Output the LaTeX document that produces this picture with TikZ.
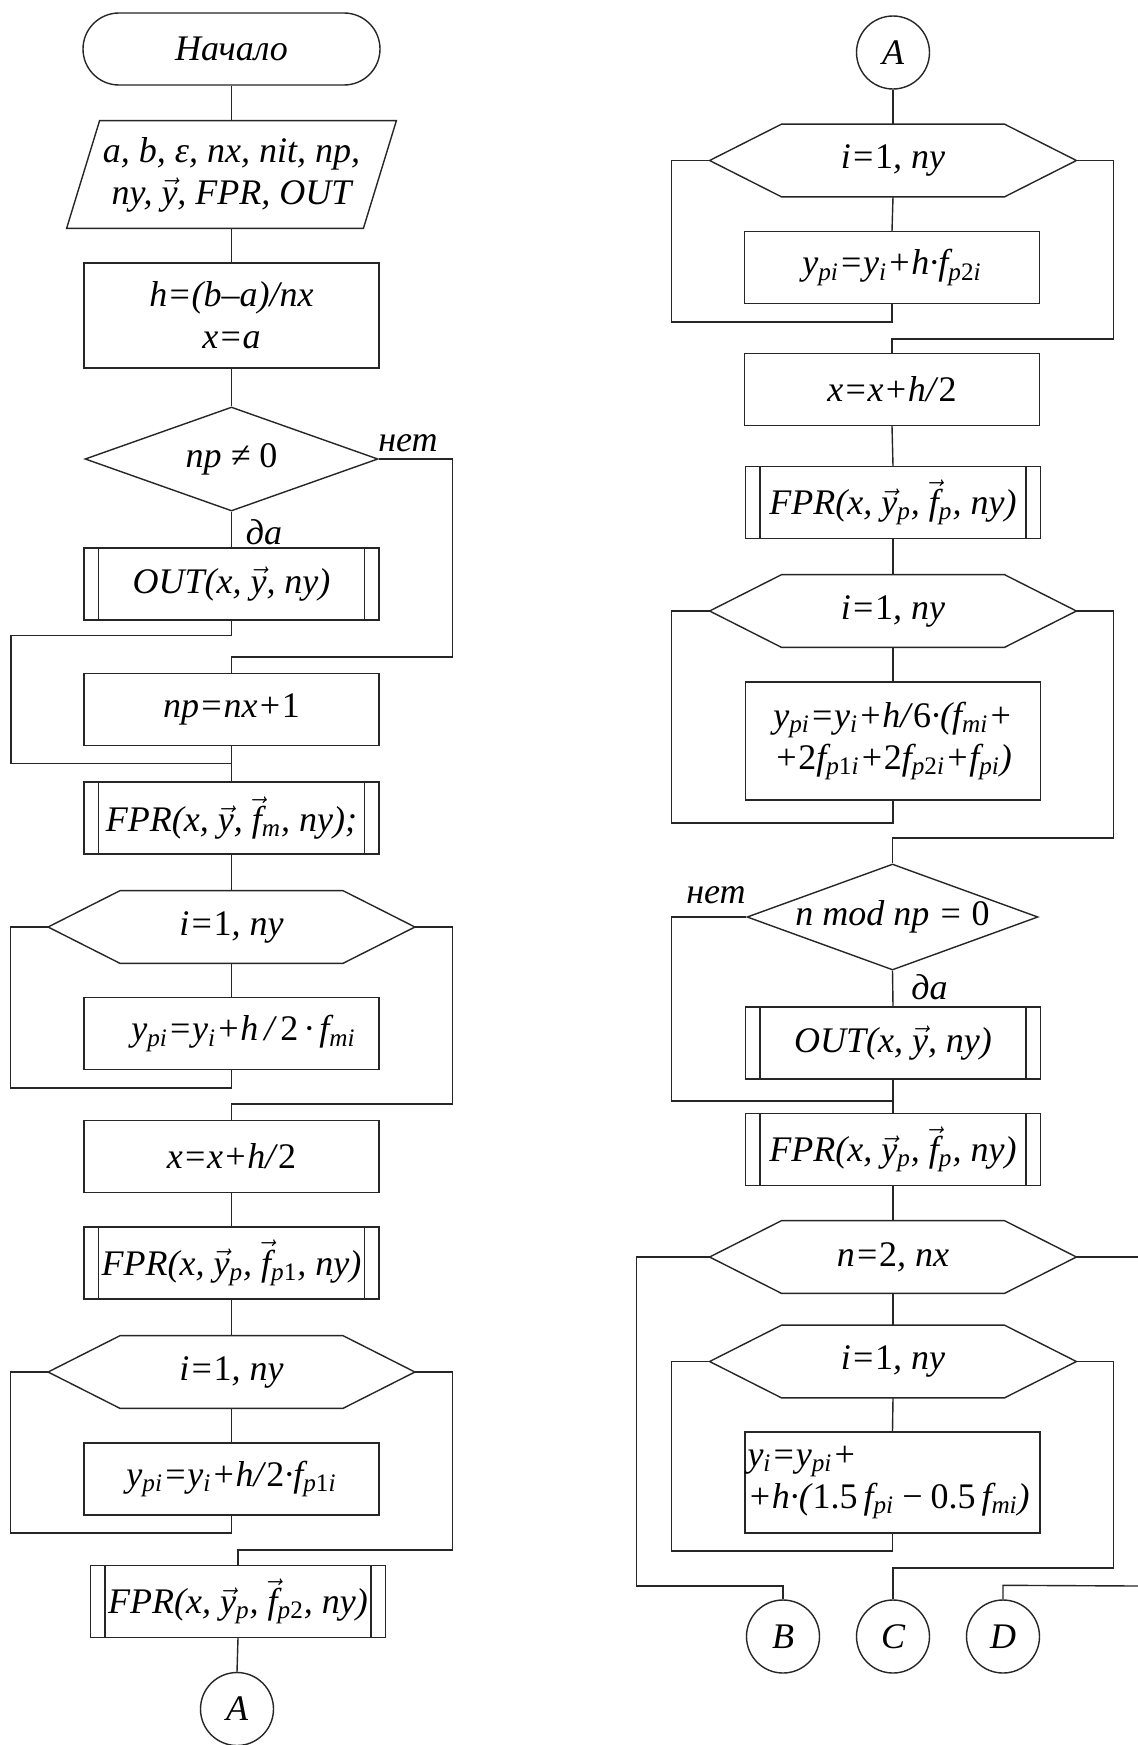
\documentclass[tikz,border=0pt]{standalone}
\usepackage{fontspec}
\setmainfont{Liberation Serif}
\usetikzlibrary{shapes.geometric}
\newcommand{\vecit}[1]{\ensuremath{\vec{\hbox{\itshape #1}}}}
\newcommand{\sbs}[1]{\textsubscript{#1}}

\begin{document}
\begin{tikzpicture}[
  x=.5pt,y=-.5pt,
  font=\fontsize{18}{21}\selectfont\itshape,
  link/.style={draw=black!85, line width=.7pt},
  base/.style={draw=black!85, line width=.7pt, align=center, inner xsep=2pt, inner ysep=1pt},
  term/.style={base, rectangle, rounded corners=18pt, minimum width=148.5pt, minimum height=36pt},
  io/.style={align=center, inner sep=0pt, minimum width=164.5pt, minimum height=53.5pt,
    append after command={\pgfextra{\draw[black!85, line width=.7pt] ([xshift=16.5pt]\tikzlastnode.north west) -- (\tikzlastnode.north east) -- ([xshift=-16.5pt]\tikzlastnode.south east) -- (\tikzlastnode.south west) -- cycle;}}},
  proc/.style={base, rectangle, minimum width=147.5pt, minimum height=36pt},
  subr/.style={proc, path picture={
    \draw[black!85, line width=.7pt] ([xshift=7.25pt]path picture bounding box.north west) -- ([xshift=7.25pt]path picture bounding box.south west)
      ([xshift=-7.25pt]path picture bounding box.north east) -- ([xshift=-7.25pt]path picture bounding box.south east);}},
  cond/.style={base, diamond, aspect=2.75, inner sep=0pt, minimum width=146.5pt, minimum height=52pt},
  hexa/.style={align=center, inner sep=0pt, minimum width=183pt, minimum height=36pt,
    append after command={\pgfextra{\draw[black!85, line width=.7pt] (\tikzlastnode.west) -- ([xshift=36pt]\tikzlastnode.north west) -- ([xshift=-36pt]\tikzlastnode.north east) -- (\tikzlastnode.east) -- ([xshift=-36pt]\tikzlastnode.south east) -- ([xshift=36pt]\tikzlastnode.south west) -- cycle;}}},
  conn/.style={base, circle, inner sep=0pt, minimum size=36.5pt},
  tag/.style={inner sep=0pt},
]
\fill[white] (0,0) rectangle (1138,1745);
\useasboundingbox (0,0) rectangle (1138,1745);

\node[term] (start) at (231.5,49) {Начало};
\node[io] (inp) at (231.5,174.5) {a, b, ε, nx, nit, np,\\ ny, \vecit{y}, FPR, OUT};
\node[proc, minimum height=52.5pt] (init) at (231.5,315.5) {h=(b–a)/nx\\x=a};
\node[cond] (chk) at (231.5,459) {np ≠ \textup{0}};
\node[subr] (out1) at (231.5,584) {OUT(x, \vecit{y}, ny)};
\node[proc] (npset) at (231.5,709.5) {np=nx+\textup{1}};
\node[subr] (fpr1) at (231.5,818) {FPR(x, \vecit{y}, \vecit{f}\sbs{m}, ny);};
\node[hexa] (loopa) at (231.5,927) {i=\textup{1}, ny};
\node[proc] (calca) at (231.5,1033.5) {\hspace{12pt}y\sbs{pi}=y\sbs{i}+h\,/\,\textup{2}\,·\,f\sbs{mi}};
\node[proc] (xsta) at (231.5,1156.5) {x=x+h/\textup{2}};
\node[subr] (fpr2) at (231.5,1263) {FPR(x, \vecit{y}\sbs{p}, \vecit{f}\sbs{p\textup{1}}, ny)};
\node[hexa] (loopb) at (231.5,1372) {i=\textup{1}, ny};
\node[proc] (calcb) at (231.5,1479) {y\sbs{pi}=y\sbs{i}+h/\textup{2}·f\sbs{p\textup{1}i}};
\node[subr] (fpr3) at (238,1601.5) {FPR(x, \vecit{y}\sbs{p}, \vecit{f}\sbs{p\textup{2}}, ny)};
\node[conn] (offA) at (237,1709) {A};

\node[tag] (yesa) at (264,532) {да};
\node[tag] (noa) at (408,443) {нет};

\node[conn] (onA) at (893,52.5) {A};
\node[hexa] (loopc) at (893,160.5) {i=\textup{1}, ny};
\node[proc] (calcc) at (892,267.5) {y\sbs{pi}=y\sbs{i}+h·f\sbs{p\textup{2}i}};
\node[proc] (xstb) at (892,389.5) {x=x+h/\textup{2}};
\node[subr] (fpr4) at (893,502.5) {FPR(x, \vecit{y}\sbs{p}, \vecit{f}\sbs{p}, ny)};
\node[hexa] (loopd) at (893,611) {i=\textup{1}, ny};
\node[proc, minimum height=59pt] (calcd) at (893,741) {y\sbs{pi}=y\sbs{i}+h/\textup{6}·(f\sbs{mi}+\\+\textup{2}f\sbs{p\textup{1}i}+\textup{2}f\sbs{p\textup{2}i}+f\sbs{pi})};
\node[cond, minimum width=145.5pt, minimum height=53pt] (mod) at (892.5,917) {n mod np = \textup{0}};
\node[subr] (out2) at (893,1043) {OUT(x, \vecit{y}, ny)};
\node[subr] (fpr5) at (893,1149.5) {FPR(x, \vecit{y}\sbs{p}, \vecit{f}\sbs{p}, ny)};
\node[hexa] (loope) at (893,1257) {n=\textup{2}, nx};
\node[hexa] (loopf) at (893,1361.5) {i=\textup{1}, ny};
\node[proc, minimum height=50.5pt, text width=145pt, inner xsep=1pt, align=left] (calcf) at (892.5,1482.5) {y\sbs{i}=y\sbs{pi}+\\+h·(\textup{1.5}\,f\sbs{pi}\,−\,\textup{0.5}\,f\sbs{mi})};
\node[conn] (offB) at (783,1636.5) {B};
\node[conn] (offC) at (893,1636.5) {C};
\node[conn] (offD) at (1003,1636.5) {D};

\node[tag] (nob) at (716,895) {нет};
\node[tag] (yesb) at (929.5,987) {да};

\coordinate (edgeR) at (1138,1257);
\coordinate (edgeD) at (1138,1586);

\foreach \a/\b in {start/inp,inp/init,init/chk,chk/out1,npset/fpr1,fpr1/loopa,loopa/calca,xsta/fpr2,fpr2/loopb,loopb/calcb,fpr3/offA,
  onA/loopc,loopc/calcc,xstb/fpr4,fpr4/loopd,loopd/calcd,mod/out2,out2/fpr5,fpr5/loope,loope/loopf,loopf/calcf}{\draw[link] (\a.south) -- (\b.north);}

\draw[link] (chk.east) -- ++(74,0) -- ++(0,198) -| (npset.north);
\draw[link] (out1.south) -- ++(0,15) -- ++(-220.5,0) -- ++(0,128) -| (fpr1.north);
\draw[link] (loopa.west) -- ++(-37.5,0) -- ++(0,161) -| (calca.south);
\draw[link] (loopa.east) -- ++(37.5,0) -- ++(0,177) -| (xsta.north);
\draw[link] (loopb.west) -- ++(-37.5,0) -- ++(0,161) -| (calcb.south);
\draw[link] (loopb.east) -- ++(37.5,0) -- ++(0,178) -| (fpr3.north);

\draw[link] (loopc.west) -- ++(-38,0) -- ++(0,161.5) -| (calcc.south);
\draw[link] (loopc.east) -- ++(37,0) -- ++(0,178.5) -| (xstb.north);
\draw[link] (loopd.west) -- ++(-38,0) -- ++(0,212) -| (calcd.south);
\draw[link] (loopd.east) -- ++(37,0) -- ++(0,227) -| (mod.north);
\draw[link] (mod.west) -- ++(-75,0) -- ++(0,184) -| (fpr5.north);
\draw[link] (loopf.west) -- ++(-38,0) -- ++(0,189.5) -| (calcf.south);
\draw[link] (loopf.east) -- ++(37,0) -- ++(0,206.5) -| (offC.north);
\draw[link] (loope.west) -- ++(-73,0) -- ++(0,329) -| (offB.north);
\draw[link] (loope.east) -- (edgeR);
\draw[link] (offD.north) -- ++(0,-14) -- (edgeD);
\end{tikzpicture}
\end{document}
